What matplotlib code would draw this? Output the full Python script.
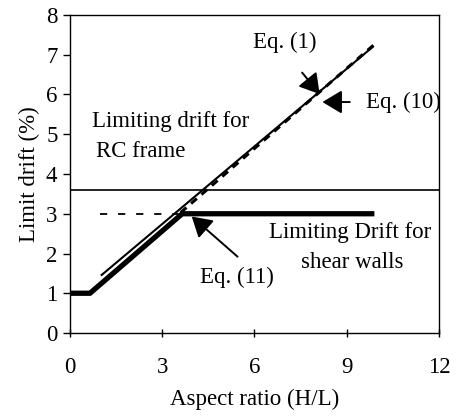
import matplotlib.pyplot as plt

plt.rcParams['font.family'] = ['Liberation Serif', 'DejaVu Serif']
plt.rcParams['font.size'] = 16.5

# Eq. (11) limiting drift for shear walls (thick line)
wall_x = [0, 0.65, 3.65, 9.9]
wall_y = [1.0, 1.0, 3.0, 3.0]

# Eq. (1) thin solid line
eq1_x = [1.03, 9.85]
eq1_y = [1.46, 7.2]

# Eq. (10) dashed line
eq10_x = [3.6, 9.87]
eq10_y = [3.03, 7.24]

# dashed level at 3 %
lvl_x = [0.98, 3.65]
lvl_y = [3.0, 3.0]

# limiting drift for RC frame
rc_limit = 3.6

x_ticks = [0, 3, 6, 9, 12]
y_ticks = [0, 1, 2, 3, 4, 5, 6, 7, 8]

fig = plt.figure(figsize=(4.65, 4.16), dpi=100)
ax = fig.add_axes([0.1505, 0.1995, 0.7935, 0.7645])

ax.plot(wall_x, wall_y, color='black', lw=3.8, solid_capstyle='butt', solid_joinstyle='miter')
ax.plot(eq1_x, eq1_y, color='black', lw=1.5)
ax.plot(eq10_x, eq10_y, color='black', lw=2.2, dashes=(2.5, 2))
ax.plot(lvl_x, lvl_y, color='black', lw=1.3, dashes=(4, 6))
ax.axhline(rc_limit, color='black', lw=1.2)

arrow = dict(arrowstyle='-|>,head_length=0.5,head_width=0.3', color='black', lw=1.4,
             mutation_scale=24, shrinkA=0, shrinkB=0)
ax.annotate('', xy=(8.12, 6.01), xytext=(7.55, 6.55), arrowprops=arrow)
ax.annotate('', xy=(8.21, 5.81), xytext=(9.1, 5.81), arrowprops=arrow)
ax.annotate('', xy=(3.96, 2.93), xytext=(5.45, 1.92), arrowprops=arrow)

ax.text(6.98, 7.32, 'Eq. (1)', ha='center', va='center')
ax.text(9.62, 5.81, 'Eq. (10)', ha='left', va='center')
ax.text(5.42, 1.39, 'Eq. (11)', ha='center', va='center')
ax.text(0.7, 5.33, 'Limiting drift for', ha='left', va='center')
ax.text(0.85, 4.57, 'RC frame', ha='left', va='center')
ax.text(9.12, 2.53, 'Limiting Drift for', ha='center', va='center')
ax.text(9.18, 1.77, 'shear walls', ha='center', va='center')

ax.set_xlim(0, 12)
ax.set_ylim(0, 8)
ax.set_xticks(x_ticks)
ax.set_yticks(y_ticks)
ax.tick_params(axis='x', direction='inout', length=6, width=1, pad=14)
ax.tick_params(axis='y', direction='out', length=5, width=1, pad=4)
for s in ax.spines.values():
    s.set_linewidth(1.0)

ax.set_xlabel('Aspect ratio (H/L)', labelpad=8)
ax.set_ylabel('Limit drift (%)', labelpad=4)

fig.savefig('out.png', dpi=100)
